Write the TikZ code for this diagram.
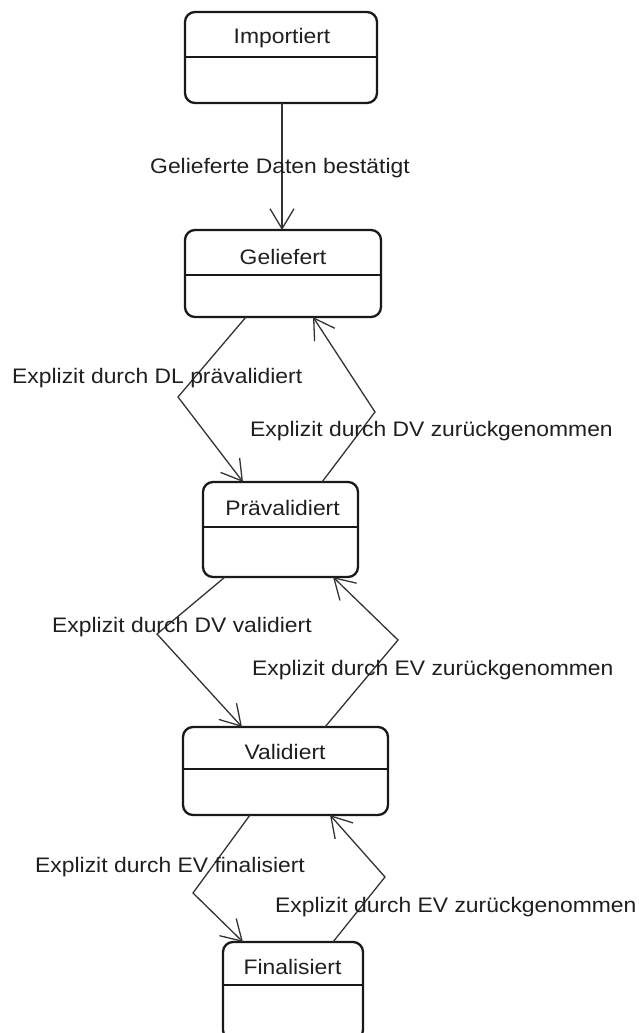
\documentclass[tikz,border=0pt]{standalone}
\usepackage{fontspec}
\setmainfont[FakeStretch=1.09]{Liberation Sans}
\usetikzlibrary{arrows.meta}
\begin{document}
\begin{tikzpicture}[x=1pt,y=-1pt,
  statebox/.style={draw=black!90, line width=2.3pt, rounded corners=10pt, outer sep=0pt, inner sep=0pt},
  divider/.style={draw=black!90, line width=1.3pt},
  title/.style={inner sep=0pt, font=\fontsize{21}{24}\selectfont, text=black!88},
  lbl/.style={inner sep=0pt, font=\fontsize{21}{24}\selectfont, text=black!88, anchor=base west},
  arr/.style={draw=black!80, line width=1.3pt, -{Straight Barb[length=20pt,width=24pt,line width=1.3pt]}}
]
\useasboundingbox (0,0) rectangle (639,1033);
\clip (0,0) rectangle (639,1033);

% states
\node[statebox, minimum width=192, minimum height=91] (imp) at (281,57.5) {};
\draw[divider] (imp.west |- 0,57) -- (imp.east |- 0,57);
\node[title] (impt) at (282,38) {Importiert};

\node[statebox, minimum width=196, minimum height=87] (gel) at (283,273.5) {};
\draw[divider] (gel.west |- 0,275) -- (gel.east |- 0,275);
\node[title] (gelt) at (283,257) {Geliefert};

\node[statebox, minimum width=155, minimum height=95] (prv) at (280.5,529.5) {};
\draw[divider] (prv.west |- 0,527) -- (prv.east |- 0,527);
\node[title] (prvt) at (282.5,508) {Prävalidiert};

\node[statebox, minimum width=205, minimum height=88] (val) at (285.5,771) {};
\draw[divider] (val.west |- 0,769) -- (val.east |- 0,769);
\node[title] (valt) at (285,752) {Validiert};

\node[statebox, minimum width=140, minimum height=98] (fin) at (293,991) {};
\draw[divider] (fin.west |- 0,985) -- (fin.east |- 0,985);
\node[title] (fint) at (292.5,967) {Finalisiert};

% vertices
\coordinate (v1) at (178,397);
\coordinate (v2) at (375,412);
\coordinate (v3) at (157,634);
\coordinate (v4) at (398,640);
\coordinate (v5) at (193,893);
\coordinate (v6) at (385,877);

% transitions
\draw[arr] ([xshift=1pt]imp.south) -- ([xshift=-1pt]gel.north);
\draw[arr] ([xshift=-37pt]gel.south) -- (v1) -- ([xshift=-37.5pt]prv.north);
\draw[arr] ([xshift=41.5pt]prv.north) -- (v2) -- ([xshift=30pt]gel.south);
\draw[arr] ([xshift=-55.5pt]prv.south) -- (v3) -- ([xshift=-43.5pt]val.north);
\draw[arr] ([xshift=39.5pt]val.north) -- (v4) -- ([xshift=52.5pt]prv.south);
\draw[arr] ([xshift=-35.5pt]val.south) -- (v5) -- ([xshift=-50pt]fin.north);
\draw[arr] ([xshift=40pt]fin.north) -- (v6) -- ([xshift=44.5pt]val.south);

% labels
\node[lbl] (l1) at (150,173) {Gelieferte Daten bestätigt};
\node[lbl] (l2) at (12,383) {Explizit durch DL prävalidiert};
\node[lbl] (l3) at (250,436) {Explizit durch DV zurückgenommen};
\node[lbl] (l4) at (52,632) {Explizit durch DV validiert};
\node[lbl] (l5) at (252,675) {Explizit durch EV zurückgenommen};
\node[lbl] (l6) at (35,872) {Explizit durch EV finalisiert};
\node[lbl] (l7) at (275,912) {Explizit durch EV zurückgenommen};
\end{tikzpicture}
\end{document}
